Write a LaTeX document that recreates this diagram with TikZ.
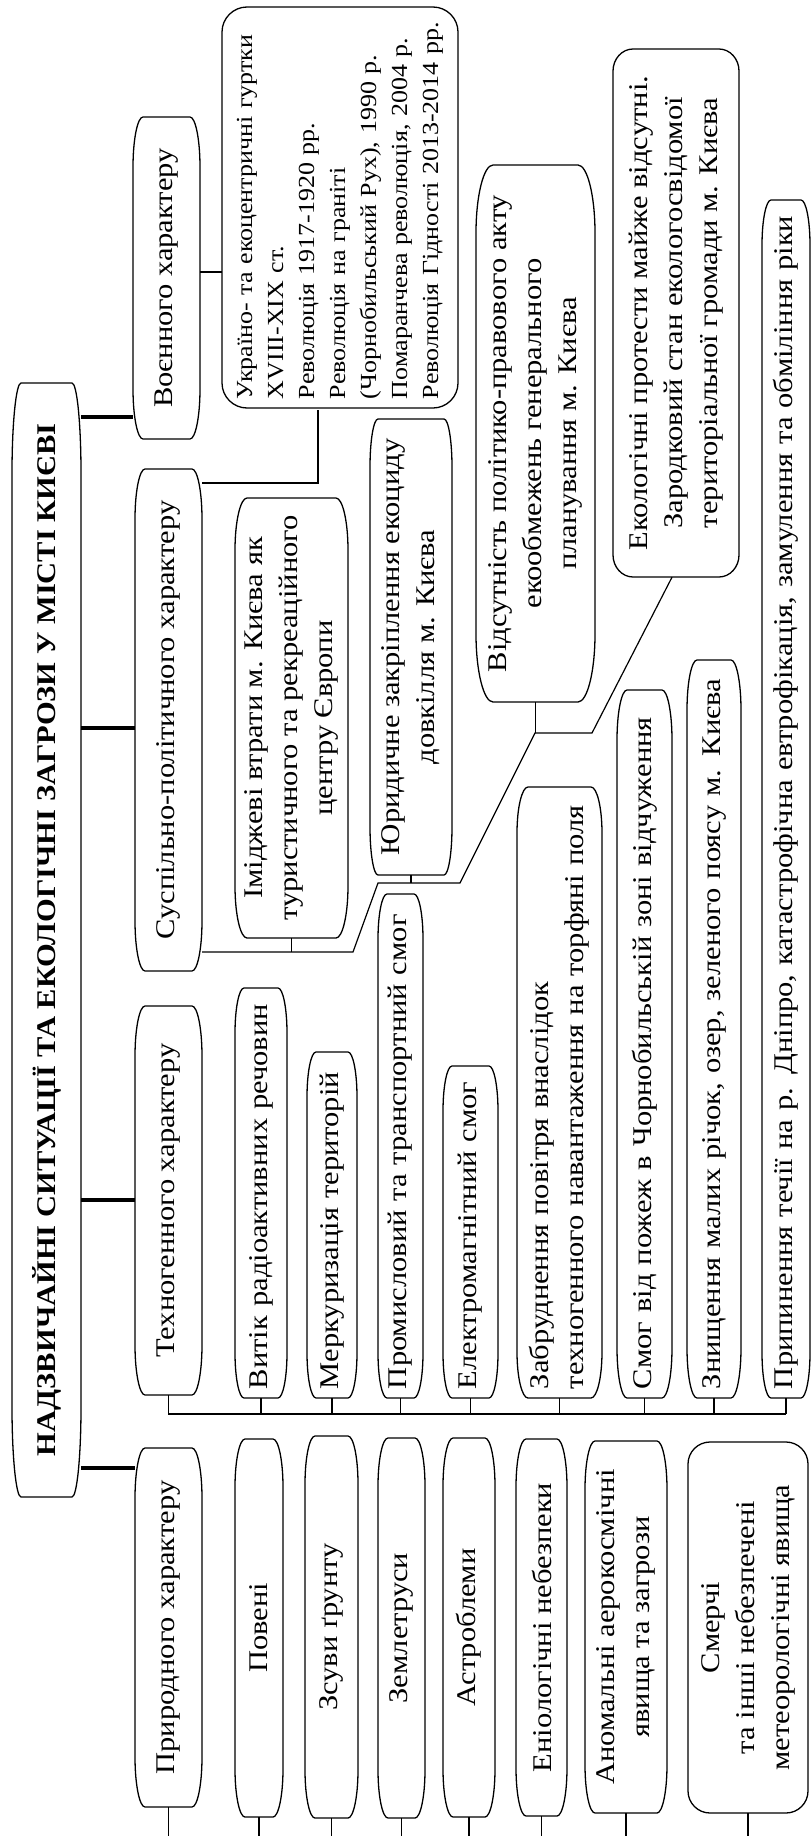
\documentclass[tikz,border=0pt]{standalone}
\usepackage{fontspec}
\setmainfont{Liberation Serif}[FakeStretch=1.13]
\tikzset{
  boxline/.style={line width=1.3pt},
  link/.style={line width=1.2pt},
  thick link/.style={line width=4pt},
  txt/.style={rotate=90, inner ysep=0pt, inner xsep=9pt, align=center,
    font=\fontsize{27}{35}\selectfont},
}
\newcommand\capbox[9]{%
  % #1 name, #2 x1, #3 y1, #4 x2, #5 y2, #6 rx, #7 ry, #8 options, #9 text
  \draw[boxline] ({#2+#6},#3) -- ({#4-#6},#3)
    .. controls ({#4-0.45*#6},#3) and (#4,{#3+0.45*#7}) .. (#4,{#3+#7})
    -- (#4,{#5-#7})
    .. controls (#4,{#5-0.45*#7}) and ({#4-0.45*#6},#5) .. ({#4-#6},#5)
    -- ({#2+#6},#5)
    .. controls ({#2+0.45*#6},#5) and (#2,{#5-0.45*#7}) .. (#2,{#5-#7})
    -- (#2,{#3+#7})
    .. controls (#2,{#3+0.45*#7}) and ({#2+0.45*#6},#3) .. ({#2+#6},#3) -- cycle;
  \pgfmathsetmacro\capW{#4-#2}%
  \pgfmathsetmacro\capL{#5-#3-18}%
  \pgfmathsetmacro\capM{#5-#3}%
  \node[txt, minimum height=\capW pt, minimum width=\capM pt, #8]
    (#1) at ({(#2+#4)/2},{(#3+#5)/2}) {#9};
}
\tikzset{lft/.style={text width=\capL pt, align=left}}
\begin{document}
\begin{tikzpicture}[x=1pt,y=-1pt]
\useasboundingbox (0,0) rectangle (811,1836);
% title
\capbox{title}{12}{383}{81}{1497}{9}{90}{font=\bfseries\fontsize{27}{35}\selectfont}{НАДЗВИЧАЙНІ СИТУАЦІЇ ТА ЕКОЛОГІЧНІ ЗАГРОЗИ У МІСТІ КИЄВІ}
% military
\capbox{voen}{133}{117}{200}{439}{10}{50}{}{Воєнного характеру}
\capbox{ukr}{222}{7}{458}{408}{25}{25}{lft, inner xsep=11pt, font=\fontsize{23}{31}\selectfont}{\mbox{Україно- та екоцентричні гуртки}\\\mbox{XVIII-XIX ст.}\\\mbox{Революція 1917-1920 рр.}\\\mbox{Революція на граніті}\\\mbox{(Чорнобильський Рух), 1990 р.}\\\mbox{Помаранчева революція, 2004 р.}\\\mbox{Революція Гідності 2013-2014 рр.}}
% socio-political
\capbox{susp}{135}{469}{202}{971}{10}{50}{}{Суспільно-політичного характеру}
\capbox{imij}{235}{498}{348}{938}{12}{52}{}{Іміджеві втрати м. Києва як\\туристичного та рекреаційного\\центру Європи}
\capbox{yur}{370}{419}{452}{875}{8}{48}{}{Юридичне закріплення екоциду\\довкілля м. Києва}
\capbox{vids}{476}{165}{595}{702}{17}{68}{}{Відсутність політико-правового акту\\екообмежень генерального\\планування м. Києва}
\capbox{ekol}{613}{49}{739}{577}{20}{22}{}{Екологічні протести майже відсутні.\\Зародковий стан екологосвідомої\\територіальної громади м. Києва}
% technogenic
\capbox{tech}{135}{1006}{202}{1395}{10}{50}{}{Техногенного характеру}
\capbox{vyt}{235}{988}{287}{1398}{9}{45}{lft}{\mbox{Витік радіоактивних речовин}}
\capbox{merk}{307}{1052}{357}{1398}{9}{45}{lft}{\mbox{Меркуризація територій}}
\capbox{prom}{378}{894}{423}{1398}{9}{45}{lft}{\mbox{Промисловий та транспортний смог}}
\capbox{elek}{443}{1066}{498}{1398}{9}{45}{lft}{\mbox{Електромагнітний смог}}
\capbox{zabr}{517}{787}{602}{1398}{11}{46}{lft}{\mbox{Забруднення повітря внаслідок}\\\mbox{техногенного навантаження на торфяні поля}}
\capbox{smog}{617}{690}{672}{1398}{10}{50}{lft}{\mbox{Смог від пожеж в Чорнобильській зоні відчуження}}
\capbox{znys}{687}{660}{741}{1398}{10}{50}{lft}{\mbox{Знищення малих річок, озер, зеленого поясу м. Києва}}
\capbox{pryp}{762}{200}{810}{1398}{9}{45}{lft}{\mbox{Припинення течії на р. Дніпро, катастрофічна евтрофікація, замулення та обміління ріки}}
% natural
\capbox{pryr}{135}{1448}{202}{1807}{10}{50}{}{Природного характеру}
\capbox{pove}{235}{1439}{283}{1817}{10}{48}{}{Повені}
\capbox{zsuv}{305}{1436}{358}{1818}{10}{48}{}{Зсуви ґрунту}
\capbox{zeml}{378}{1438}{425}{1818}{10}{48}{}{Землетруси}
\capbox{astr}{443}{1438}{495}{1817}{10}{48}{}{Астроблеми}
\capbox{enio}{516}{1439}{567}{1816}{10}{48}{}{Еніологічні небезпеки}
\capbox{anom}{585}{1441}{667}{1813}{10}{48}{}{Аномальні аерокосмічні\\явища та загрози}
\capbox{smer}{688}{1442}{808}{1813}{22}{22}{}{Смерчі\\та інші небезпечені\\метеорологічні явища}
% thick links from title
\draw[thick link] (title.south |- 0,417) -- (voen.north |- 0,417);
\draw[thick link] (title.south |- 0,728) -- (susp.north |- 0,728);
\draw[thick link] (title.south |- 0,1200) -- (tech.north |- 0,1200);
\draw[thick link] (title.south |- 0,1468) -- (pryr.north |- 0,1468);
% military links
\draw[link] (voen.south |- 0,272) -- (ukr.north |- 0,272);
\draw[link] (susp.south |- 0,483) -| ([xshift=-22pt]ukr.west);
% socio-political chain
\coordinate (b1) at (353,952);
\coordinate (b2) at (378,883);
\coordinate (b3) at (460,883);
\coordinate (b4) at (535,733);
\coordinate (b5) at (592,733);
\draw[link] (susp.south |- b1) -- (b1) -- (b2) -- (b3) -- (b4) -- (b5) -- ([xshift=-4pt]ekol.west);
\draw[link] (imij.west) -- (imij.west |- b1);
\draw[link] (yur.west) -- (yur.west |- b2);
\draw[link] (vids.west) -- (vids.west |- b4);
% technogenic bus
\coordinate (tbus) at (0,1414);
\draw[link] (tech.west) -- (tech.west |- tbus) -- (pryp.west |- tbus);
\foreach \n in {vyt,merk,prom,elek,zabr,smog,znys,pryp}
  \draw[link] (\n.west) -- (\n.west |- tbus);
% natural column links to the lower edge
\coordinate (nbot) at (0,1836);
\foreach \n in {pryr,pove,zsuv,zeml,astr,enio,anom,smer}
  \draw[link] (\n.west) -- (\n.west |- nbot);
\end{tikzpicture}
\end{document}
